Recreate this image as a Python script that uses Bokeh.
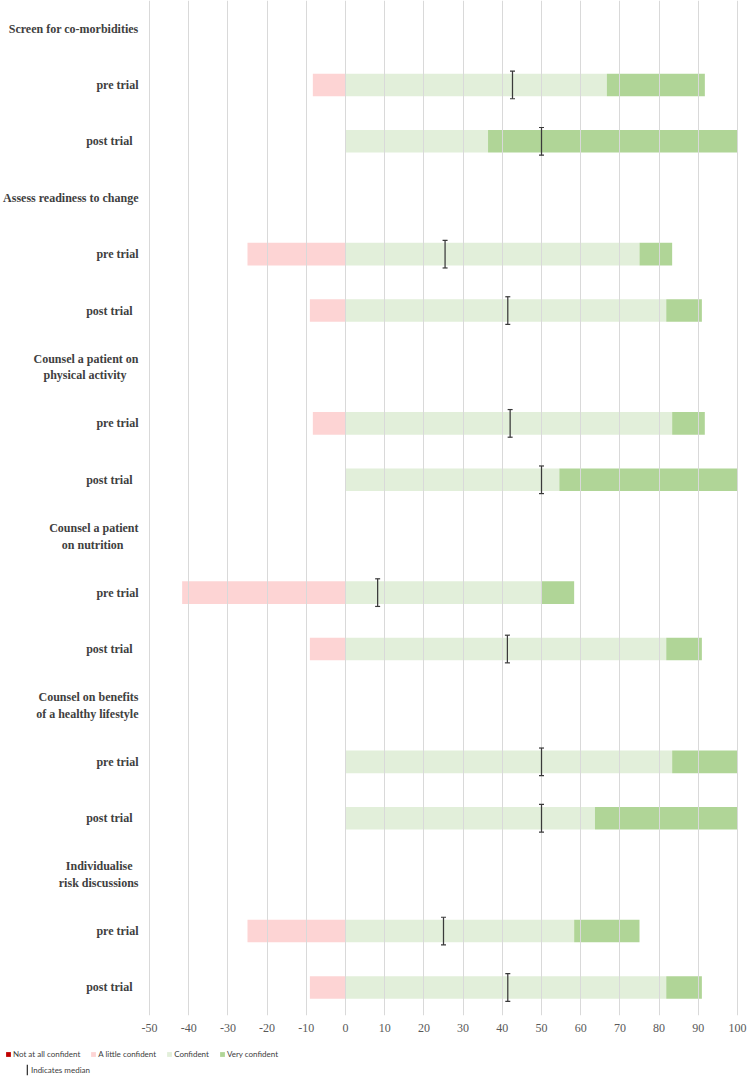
from bokeh.plotting import figure
from bokeh.layouts import column
from bokeh.models import ColumnDataSource, Range1d, FixedTicker, Legend, LegendItem
from bokeh.embed import file_html
from bokeh.resources import INLINE

# ---- data -------------------------------------------------------------
NB = "\u00a0"
skills = [
    "Screen for co-morbidities",
    "Assess readiness to change",
    "Counsel a patient on\nphysical activity" + NB * 4,
    "Counsel a patient\non nutrition" + NB * 5,
    "Counsel on benefits\nof a healthy lifestyle",
    "Individualise" + NB * 2 + "\nrisk discussions",
]
phases = ["pre trial", "post trial" + NB * 2]

# one value per bar, order: skill1 pre, skill1 post, skill2 pre, ...
not_at_all = [0, 0, 0, 0, 0, 0, 0, 0, 0, 0, 0, 0]
a_little = [8.33, 0, 25.0, 9.09, 8.33, 0, 41.67, 9.09, 0, 0, 25.0, 9.09]
confident = [66.67, 36.36, 75.0, 81.82, 83.33, 54.55, 50.0, 81.82, 83.33, 63.64, 58.33, 81.82]
very = [25.0, 63.64, 8.33, 9.09, 8.33, 45.45, 8.33, 9.09, 16.67, 36.36, 16.67, 9.09]
median = [42.6, 50.0, 25.4, 41.4, 42.0, 50.0, 8.2, 41.3, 50.0, 50.0, 25.0, 41.4]

x_ticks = [-50, -40, -30, -20, -10, 0, 10, 20, 30, 40, 50, 60, 70, 80, 90, 100]
x_tick_labels = ["-50", "-40", "-30", "-20", "-10", "0", "10", "20", "30", "40",
                 "50", "60", "70", "80", "90", "100"]

legend_labels = ["Not at all confident", "A little confident", "Confident", "Very confident"]
median_label = "Indicates median"

C_NOT = "#c00000"
C_LITTLE = "#fdd4d4"
C_CONF = "#e2efda"
C_VERY = "#b0d597"
C_MED = "#3a3a3a"
TXT = "#404040"

# ---- layout of rows ---------------------------------------------------
row_labels = []
bar_rows = []
for i, s in enumerate(skills):
    row_labels.append(s)
    for j, ph in enumerate(phases):
        row_labels.append(ph)
        bar_rows.append(3 * i + 1 + j)

little_left = [-a for a in a_little]
not_left = [-(a + n) for a, n in zip(a_little, not_at_all)]
very_right = [c + v for c, v in zip(confident, very)]

src = ColumnDataSource(dict(
    y=bar_rows,
    zero=[0] * len(bar_rows),
    not_left=not_left,
    little_left=little_left,
    conf=confident,
    very_right=very_right,
    median=median,
    med_lo=[r - 0.245 for r in bar_rows],
    med_hi=[r + 0.245 for r in bar_rows],
))

p = figure(width=747, height=1040,
           x_range=Range1d(-50.51, 102.55), y_range=Range1d(17.4965, -0.4965),
           output_backend="svg", toolbar_location=None,
           min_border_left=147, min_border_right=0, min_border_top=0,
           min_border_bottom=25)
p.frame_align = False
p.outline_line_color = None
p.background_fill_color = "white"

BAR_H = 0.4
# bars sit below the gridlines (gridlines show through them, as in the source)
p.hbar(y="y", left="not_left", right="little_left", height=BAR_H, source=src,
       fill_color=C_NOT, line_color=None, level="image")
p.hbar(y="y", left="little_left", right="zero", height=BAR_H, source=src,
       fill_color=C_LITTLE, line_color=None, level="image")
p.hbar(y="y", left="zero", right="conf", height=BAR_H, source=src,
       fill_color=C_CONF, line_color=None, level="image")
p.hbar(y="y", left="conf", right="very_right", height=BAR_H, source=src,
       fill_color=C_VERY, line_color=None, level="image")

# median markers (I-beam)
p.vbar(x="median", bottom="med_lo", top="med_hi", width=0.32, source=src,
       fill_color=C_MED, line_color=None)
p.scatter(x="median", y="med_lo", marker="dash", size=5, line_color=C_MED,
          line_width=1.2, source=src)
p.scatter(x="median", y="med_hi", marker="dash", size=5, line_color=C_MED,
          line_width=1.2, source=src)

# ---- axes -------------------------------------------------------------
p.xaxis.ticker = FixedTicker(ticks=x_ticks)
p.xaxis.major_label_overrides = {t: l for t, l in zip(x_ticks, x_tick_labels)}
p.xaxis.axis_line_color = None
p.xaxis.major_tick_line_color = None
p.xaxis.minor_tick_line_color = None
p.xaxis.major_tick_out = 0
p.xaxis.major_tick_in = 0
p.xaxis.minor_tick_out = 0
p.xaxis.major_label_standoff = 8
p.xaxis.major_label_text_font = "Liberation Serif"
p.xaxis.major_label_text_font_size = "12px"
p.xaxis.major_label_text_color = "#595959"

p.yaxis.ticker = FixedTicker(ticks=list(range(len(row_labels))))
p.yaxis.major_label_overrides = {i: l for i, l in enumerate(row_labels)}
p.yaxis.axis_line_color = None
p.yaxis.major_tick_line_color = None
p.yaxis.minor_tick_line_color = None
p.yaxis.major_tick_out = 0
p.yaxis.major_tick_in = 0
p.yaxis.minor_tick_out = 0
p.yaxis.major_label_standoff = 9
p.yaxis.major_label_text_font = "Liberation Serif"
p.yaxis.major_label_text_font_style = "bold"
p.yaxis.major_label_text_font_size = "12px"
p.yaxis.major_label_text_color = TXT

p.xgrid.grid_line_color = "#d9d9d9"
p.xgrid.grid_line_width = 1
p.xgrid.level = "underlay"
p.ygrid.visible = False

# ---- legend strip (separate small figure below) -----------------------
lg = figure(width=747, height=36, x_range=Range1d(0, 1), y_range=Range1d(0, 1),
            output_backend="svg", toolbar_location=None,
            x_axis_type=None, y_axis_type=None,
            min_border_left=0, min_border_right=0, min_border_top=0,
            min_border_bottom=0)
lg.frame_align = False
lg.outline_line_color = None
lg.grid.visible = False
# hidden copies of the series, used only to draw the legend swatches
leg_renderers = []
for lcol, rcol, c in [("not_left", "little_left", C_NOT), ("little_left", "zero", C_LITTLE),
                      ("zero", "conf", C_CONF), ("conf", "very_right", C_VERY)]:
    leg_renderers.append(lg.hbar(y="y", left=lcol, right=rcol, height=BAR_H, source=src,
                                 fill_color=c, line_color=None, visible=False))
med_r = lg.vbar(x="median", bottom="med_lo", top="med_hi", width=0.32, source=src,
                fill_color=C_MED, line_color=None, visible=False)

leg1 = Legend(items=[LegendItem(label=l, renderers=[r])
                     for l, r in zip(legend_labels, leg_renderers)],
              orientation="horizontal", location=(5, 17), padding=0, margin=0,
              spacing=10, glyph_width=6, glyph_height=6, label_standoff=2,
              label_height=8, label_text_font="Lato", label_text_font_size="8px",
              label_text_color=TXT, border_line_color=None, background_fill_alpha=0,
              inactive_fill_alpha=0)
lg.add_layout(leg1, "center")

leg2 = Legend(items=[LegendItem(label=median_label, renderers=[med_r])],
              location=(26, 0), padding=0, margin=0, glyph_width=2, glyph_height=13,
              label_standoff=3, label_height=8, label_text_font="Lato",
              label_text_font_size="8px", label_text_color=TXT,
              border_line_color=None, background_fill_alpha=0, inactive_fill_alpha=0)
lg.add_layout(leg2, "center")

layout = column(p, lg, spacing=0)
open("out.html", "w").write(file_html(layout, INLINE))
